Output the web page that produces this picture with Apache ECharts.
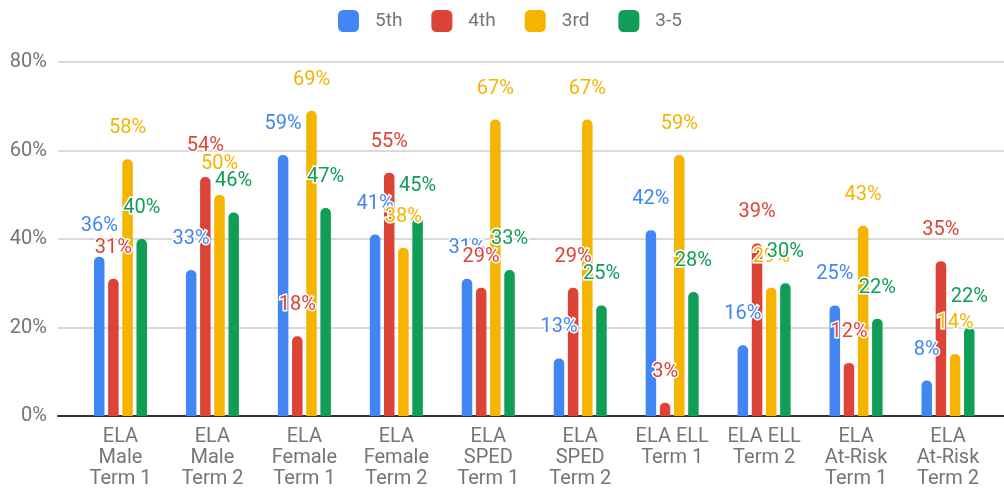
<!DOCTYPE html>
<html>
<head>
<meta charset="utf-8">
<script src="https://cdn.jsdelivr.net/npm/echarts@6/dist/echarts.min.js"></script>
<style>
  html, body { margin: 0; padding: 0; background: #fff; }
  #chart { width: 1004px; height: 493px; }
</style>
</head>
<body>
<div id="chart"></div>
<script>
// categories along the x axis
const categories = [
  "ELA\nMale\nTerm 1",
  "ELA\nMale\nTerm 2",
  "ELA\nFemale\nTerm 1",
  "ELA\nFemale\nTerm 2",
  "ELA\nSPED\nTerm 1",
  "ELA\nSPED\nTerm 2",
  "ELA ELL\nTerm 1",
  "ELA ELL\nTerm 2",
  "ELA\nAt-Risk\nTerm 1",
  "ELA\nAt-Risk\nTerm 2",
];
const seriesNames = ["5th", "4th", "3rd", "3-5"];
const colors = ["#4285F4", "#DB4437", "#F4B400", "#0F9D58"];

// percentages per grade
const fifth = [36, 33, 59, 41, 31, 13, 42, 16, 25, 8];
const fourth = [31, 54, 18, 55, 29, 29, 3, 39, 12, 35];
const third = [58, 50, 69, 38, 67, 67, 59, 29, 43, 14];
const grades35 = [40, 46, 47, 45, 33, 25, 28, 30, 22, 20];
// the last 3-5 bar is labelled 22% in the source chart
const grades35Labels = [40, 46, 47, 45, 33, 25, 28, 30, 22, 22];

const yTicks = [0, 20, 40, 60, 80];

const values = [fifth, fourth, third, grades35];
const labelValues = [fifth, fourth, third, grades35Labels];

const font = "Roboto";
const grey = "#757575";

const chart = echarts.init(document.getElementById("chart"));
const option = {
  animation: false,
  color: colors,
  legend: {
    top: 5,
    left: 333,
    icon: "roundRect",
    itemWidth: 21,
    itemHeight: 22,
    itemGap: 29,
    textStyle: {
      color: grey,
      fontSize: 19,
      fontFamily: font,
      padding: [0, 0, 0, 11],
    },
    data: seriesNames,
  },
  // grid 0 holds the gridlines and baseline across the full width,
  // grid 1 holds the bars (inset a little like the original)
  grid: [
    { left: 58, right: 0, top: 62, bottom: 77 },
    { left: 74.5, right: 10, top: 62, bottom: 77 },
  ],
  xAxis: [
    {
      gridIndex: 0,
      type: "value",
      min: 0,
      max: 1,
      axisLine: { show: true, onZero: false, lineStyle: { color: "#333", width: 2 } },
      axisTick: { show: false },
      axisLabel: { show: false },
      splitLine: { show: false },
    },
    {
      gridIndex: 1,
      type: "category",
      data: categories,
      axisLine: { show: false },
      axisTick: { show: false },
      axisLabel: {
        color: grey,
        fontSize: 20,
        fontFamily: font,
        lineHeight: 21,
        margin: 10,
        interval: 0,
      },
    },
  ],
  yAxis: [
    {
      gridIndex: 0,
      type: "value",
      min: yTicks[0],
      max: yTicks[yTicks.length - 1],
      interval: 20,
      axisLine: { show: false },
      axisTick: { show: false },
      splitLine: { lineStyle: { color: "#ccc", width: 1.5 } },
      axisLabel: {
        color: grey,
        fontSize: 20,
        fontFamily: font,
        margin: 11,
        formatter: (v) => v + "%",
      },
    },
    {
      gridIndex: 1,
      type: "value",
      min: yTicks[0],
      max: yTicks[yTicks.length - 1],
      interval: 20,
      show: false,
      splitLine: { show: false },
    },
  ],
  series: seriesNames.map((name, i) => ({
    name: name,
    type: "bar",
    xAxisIndex: 1,
    yAxisIndex: 1,
    data: values[i],
    barWidth: 10.5,
    barGap: "35%",
    itemStyle: { borderRadius: [5, 5, 0, 0] },
    label: {
      show: true,
      position: "top",
      distance: 21,
      color: colors[i],
      fontSize: 20,
      fontFamily: font,
      textBorderColor: "#fff",
      textBorderWidth: 3,
      formatter: (p) => labelValues[i][p.dataIndex] + "%",
    },
  })),
};
chart.setOption(option);
</script>
</body>
</html>
